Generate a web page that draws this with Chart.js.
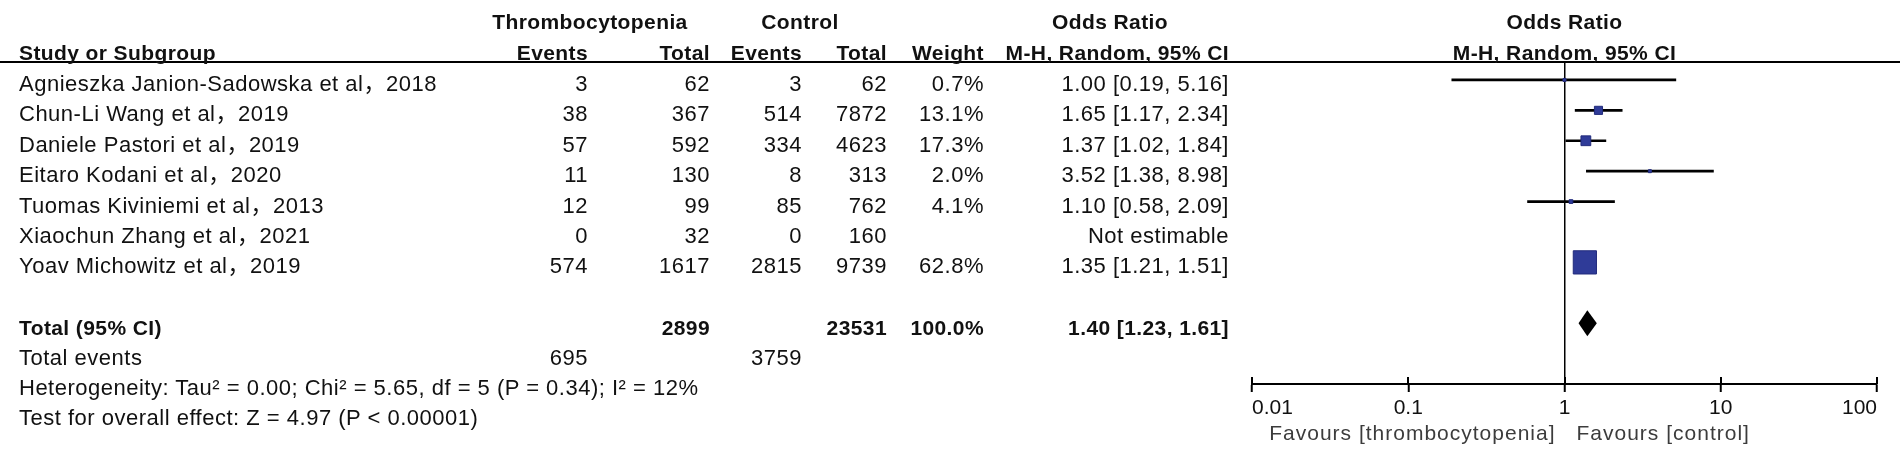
<!DOCTYPE html>
<html>
<head>
  <title>Forest plot - thrombocytopenia</title>
  <style>
    body { margin: 0; background: #fff; }
    #wrap { position: relative; width: 1900px; height: 461px; overflow: hidden;
            font-family: "Liberation Sans", Arial, "Noto Sans CJK SC", sans-serif; color: #111; }
    #forest { position: absolute; left: 0; top: 0; }
    .t { position: absolute; white-space: nowrap; line-height: 1; font-size: 22px; letter-spacing: 0.5px; }
    .b { font-weight: bold; font-size: 21px; letter-spacing: 0.4px; }
    .fav { color: #3c3c3c; font-size: 21px; letter-spacing: 1px; }
    #rule { position: absolute; left: 0; top: 61px; width: 1900px; height: 2px; background: #000; }
  </style>
</head>
<body>
<div id="wrap">
  <canvas id="forest" width="1900" height="461"></canvas>
  <div id="rule"></div>
</div>

<script src="https://cdn.jsdelivr.net/npm/chart.js"></script>
<script>
  // study data
  var studies = ['Agnieszka Janion-Sadowska et al，2018', 'Chun-Li Wang et al，2019', 'Daniele Pastori et al，2019',
                 'Eitaro Kodani et al，2020', 'Tuomas Kiviniemi et al，2013', 'Xiaochun Zhang et al，2021',
                 'Yoav Michowitz et al，2019'];
  var expEvents = [3, 38, 57, 11, 12, 0, 574];
  var expTotal = [62, 367, 592, 130, 99, 32, 1617];
  var ctlEvents = [3, 514, 334, 8, 85, 0, 2815];
  var ctlTotal = [62, 7872, 4623, 313, 762, 160, 9739];
  var weights = [0.7, 13.1, 17.3, 2.0, 4.1, null, 62.8];
  var oddsRatio = [1.00, 1.65, 1.37, 3.52, 1.10, null, 1.35];
  var ciLow = [0.19, 1.17, 1.02, 1.38, 0.58, null, 1.21];
  var ciHigh = [5.16, 2.34, 1.84, 8.98, 2.09, null, 1.51];

  // pooled result
  var totalExp = 2899, totalCtl = 23531, totalEventsExp = 695, totalEventsCtl = 3759;
  var pooledOR = 1.40, pooledLow = 1.23, pooledHigh = 1.61;
  var heterogeneity = 'Heterogeneity: Tau² = 0.00; Chi² = 5.65, df = 5 (P = 0.34); I² = 12%';
  var overallTest = 'Test for overall effect: Z = 4.97 (P < 0.00001)';

  // axis
  var tickValues = [0.01, 0.1, 1, 10, 100];
  var tickLabels = ['0.01', '0.1', '1', '10', '100'];
  var favourLeft = 'Favours [thrombocytopenia]';
  var favourRight = 'Favours [control]';

  var totalRow = 8;
  var footRows = [9, 10, 11];   // total events, heterogeneity, overall test
  var textShift = 4;            // text sits a little lower than the marks

  var ciData = [], pointData = [];
  studies.forEach(function(s, i) {
    if (oddsRatio[i] === null) return;
    ciData.push({ y: i, x: [ciLow[i], ciHigh[i]] });
    pointData.push({ y: i, x: oddsRatio[i], w: weights[i] });
  });

  var forestExtras = {
    id: 'forestExtras',
    afterDatasetsDraw: function(chart) {
      var ctx = chart.ctx, x = chart.scales.x, y = chart.scales.y;
      var yc = y.getPixelForValue(totalRow);
      var xm = x.getPixelForValue(pooledOR);
      ctx.save();
      ctx.beginPath();
      ctx.moveTo(x.getPixelForValue(pooledLow), yc);
      ctx.lineTo(xm, yc - 13);
      ctx.lineTo(x.getPixelForValue(pooledHigh), yc);
      ctx.lineTo(xm, yc + 13);
      ctx.closePath();
      ctx.fillStyle = '#000';
      ctx.fill();
      ctx.restore();
    },
    afterDraw: function(chart) {
      // tick marks reach above the axis line too
      var ctx = chart.ctx, x = chart.scales.x, bottom = chart.chartArea.bottom;
      ctx.save();
      ctx.strokeStyle = '#000';
      ctx.lineWidth = 2;
      tickValues.forEach(function(v) {
        var px = Math.round(x.getPixelForValue(v));
        ctx.beginPath();
        ctx.moveTo(px, bottom - 7);
        ctx.lineTo(px, bottom);
        ctx.stroke();
      });
      ctx.restore();
    }
  };

  var chart = new Chart(document.getElementById('forest'), {
    data: {
      datasets: [{
        type: 'scatter',
        data: pointData,
        order: 0,
        pointStyle: 'rect',
        pointRadius: function(c) { return Math.max(3, 1.45 * Math.pow(c.raw.w, 0.67)) / Math.SQRT2; },
        backgroundColor: '#2f3b98',
        borderColor: '#222b7c',
        borderWidth: 1
      }, {
        type: 'bar',
        indexAxis: 'y',
        data: ciData,
        order: 1,
        barThickness: 2,
        backgroundColor: '#000',
        borderWidth: 0
      }]
    },
    options: {
      responsive: false,
      devicePixelRatio: 1,
      animation: false,
      events: [],
      layout: { padding: { left: 1252, right: 23, top: 62, bottom: 0 } },
      plugins: { legend: { display: false }, tooltip: { enabled: false } },
      scales: {
        x: {
          type: 'logarithmic',
          position: 'bottom',
          min: 0.01,
          max: 100,
          afterBuildTicks: function(scale) {
            scale.ticks = tickValues.map(function(v) { return { value: v }; });
          },
          afterFit: function(scale) { scale.height = 77; },
          border: { color: '#000', width: 2 },
          grid: {
            drawOnChartArea: true,
            color: function(c) { return c.tick && c.tick.value === 1 ? '#000' : 'rgba(0,0,0,0)'; },
            lineWidth: 1.5,
            tickColor: '#000',
            tickWidth: 2,
            tickLength: 8
          },
          ticks: {
            autoSkip: false,
            maxRotation: 0,
            align: 'inner',
            padding: 4,
            color: '#111',
            font: { family: 'Liberation Sans', size: 21 },
            callback: function(value, index) { return tickLabels[index]; }
          }
        },
        y: {
          type: 'linear',
          display: false,
          offset: false,   // the bar dataset would switch this on and squeeze the rows
          reverse: true,
          min: -0.59,
          max: 10.0
        }
      }
    },
    plugins: [forestExtras]
  });

  // table text, placed on the chart's own row scale
  var wrap = document.getElementById('wrap');
  var yScale = chart.scales.y, xScale = chart.scales.x;

  function put(text, x, y, align, cls) {
    var el = document.createElement('span');
    el.className = 't' + (cls ? ' ' + cls : '');
    el.textContent = text;
    el.style.left = x + 'px';
    el.style.top = y + 'px';
    var dx = align === 'right' ? '-100%' : (align === 'center' ? '-50%' : '0');
    el.style.transform = 'translate(' + dx + ', -50%)';
    wrap.appendChild(el);
  }
  function rowY(v) { return yScale.getPixelForValue(v) + textShift; }
  function fmtOR(o, l, h) { return o.toFixed(2) + ' [' + l.toFixed(2) + ', ' + h.toFixed(2) + ']'; }

  var col = { name: 19, expEv: 588, expTot: 710, ctlEv: 802, ctlTot: 887, weight: 984, or: 1229 };
  var plotMid = xScale.getPixelForValue(1);

  // headers
  put('Thrombocytopenia', 590, 21, 'center', 'b');
  put('Control', 800, 21, 'center', 'b');
  put('Odds Ratio', 1110, 21, 'center', 'b');
  put('Odds Ratio', plotMid, 21, 'center', 'b');
  put('Study or Subgroup', col.name, 52, 'left', 'b');
  put('Events', col.expEv, 52, 'right', 'b');
  put('Total', col.expTot, 52, 'right', 'b');
  put('Events', col.ctlEv, 52, 'right', 'b');
  put('Total', col.ctlTot, 52, 'right', 'b');
  put('Weight', col.weight, 52, 'right', 'b');
  put('M-H, Random, 95% CI', col.or, 52, 'right', 'b');
  put('M-H, Random, 95% CI', plotMid, 52, 'center', 'b');

  studies.forEach(function(s, i) {
    var y = rowY(i);
    put(s, col.name, y, 'left');
    put(String(expEvents[i]), col.expEv, y, 'right');
    put(String(expTotal[i]), col.expTot, y, 'right');
    put(String(ctlEvents[i]), col.ctlEv, y, 'right');
    put(String(ctlTotal[i]), col.ctlTot, y, 'right');
    if (weights[i] !== null) put(weights[i].toFixed(1) + '%', col.weight, y, 'right');
    put(oddsRatio[i] === null ? 'Not estimable' : fmtOR(oddsRatio[i], ciLow[i], ciHigh[i]), col.or, y, 'right');
  });

  var yt = rowY(totalRow);
  put('Total (95% CI)', col.name, yt, 'left', 'b');
  put(String(totalExp), col.expTot, yt, 'right', 'b');
  put(String(totalCtl), col.ctlTot, yt, 'right', 'b');
  put('100.0%', col.weight, yt, 'right', 'b');
  put(fmtOR(pooledOR, pooledLow, pooledHigh), col.or, yt, 'right', 'b');

  var ye = rowY(footRows[0]);
  put('Total events', col.name, ye, 'left');
  put(String(totalEventsExp), col.expEv, ye, 'right');
  put(String(totalEventsCtl), col.ctlEv, ye, 'right');
  put(heterogeneity, col.name, rowY(footRows[1]), 'left');
  put(overallTest, col.name, rowY(footRows[2]), 'left');

  put(favourLeft, plotMid - 9, 432, 'right', 'fav');
  put(favourRight, plotMid + 12, 432, 'left', 'fav');
</script>
</body>
</html>
